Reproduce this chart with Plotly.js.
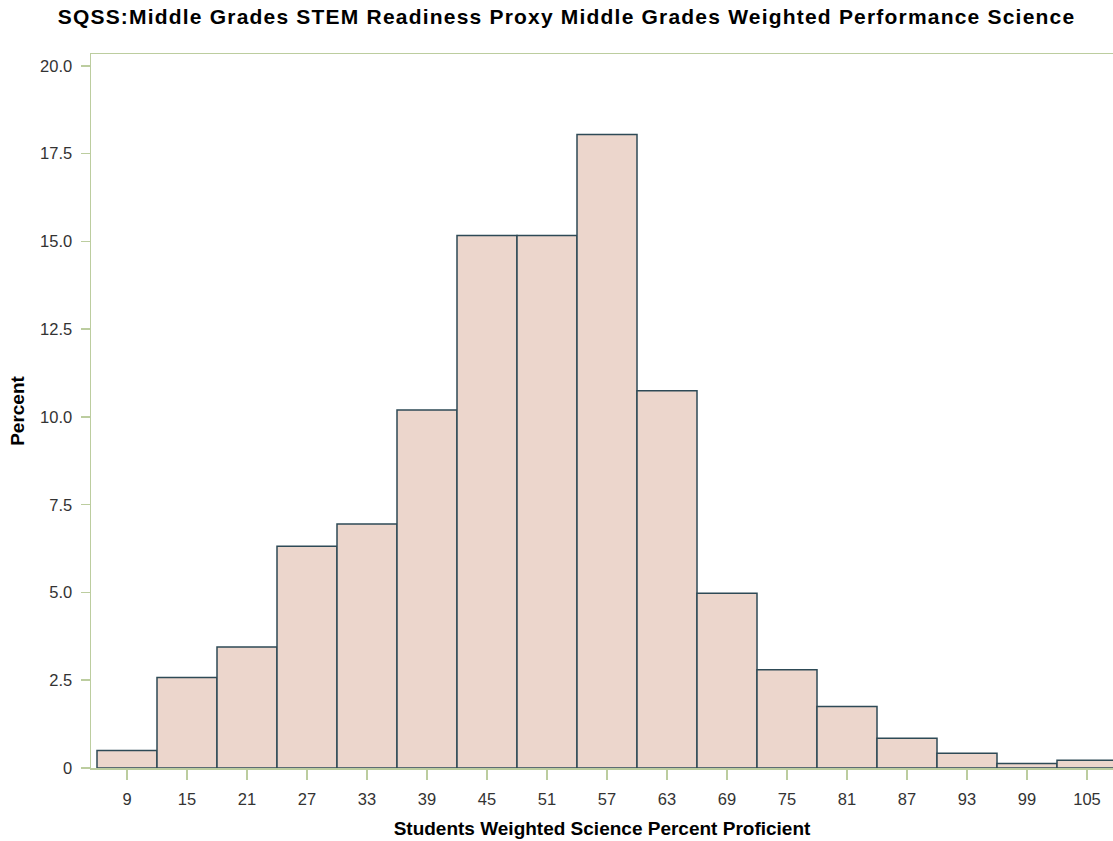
<!DOCTYPE html>
<html>
<head>
<meta charset="utf-8">
<script src="https://cdn.plot.ly/plotly-3.0.1.min.js"></script>
<style>html,body{margin:0;padding:0;background:#fff;}#chart{width:1113px;height:841px;}
.gtitle{letter-spacing:1.2px;}</style>
</head>
<body>
<div id="chart"></div>
<script>
const binCenters = [9, 15, 21, 27, 33, 39, 45, 51, 57, 63, 69, 75, 81, 87, 93, 99, 105];
const percentValues = [0.5, 2.58, 3.45, 6.32, 6.95, 10.2, 15.17, 15.17, 18.05, 10.75, 4.98, 2.8, 1.75, 0.85, 0.42, 0.13, 0.22];
const xTickLabels = ["9","15","21","27","33","39","45","51","57","63","69","75","81","87","93","99","105"];
const yTickVals = [0, 2.5, 5, 7.5, 10, 12.5, 15, 17.5, 20];
const yTickLabels = ["0","2.5","5.0","7.5","10.0","12.5","15.0","17.5","20.0"];
const binWidth = 6;

const axisColor = '#bccd9f';
const fontFam = 'Liberation Sans, Arial, sans-serif';

Plotly.newPlot('chart', [{
  type: 'bar',
  x: binCenters,
  y: percentValues,
  width: binCenters.map(() => binWidth),
  marker: {color: '#ecd6cc', line: {color: '#2e4a56', width: 1.5}},
  hoverinfo: 'x+y'
}], {
  width: 1113, height: 841,
  margin: {l: 91, r: 0, t: 54, b: 73},
  paper_bgcolor: '#fff', plot_bgcolor: '#fff',
  showlegend: false,
  bargap: 0,
  title: {text: 'SQSS:Middle Grades STEM Readiness Proxy Middle Grades Weighted Performance Science',
          font: {family: fontFam, size: 21, color: '#000', weight: 'bold'}, x: 0.509, xanchor: 'center', xref: 'container', y: 0.98, yanchor: 'middle', yref: 'container'},
  xaxis: {
    range: [5.4, 107.6], tickvals: binCenters, ticktext: xTickLabels,
    showgrid: false, zeroline: false, showline: true, linecolor: axisColor, linewidth: 1.5,
    mirror: true, ticks: 'outside', ticklen: 10, tickcolor: axisColor, tickwidth: 1.5,
    ticklabelstandoff: 6,
    tickfont: {family: fontFam, size: 16.5, color: '#333'},
    title: {text: 'Students Weighted Science Percent Proficient', font: {family: fontFam, size: 19, color: '#000', weight: 'bold'}, standoff: 14}
  },
  yaxis: {
    range: [0, 20.34], tickvals: yTickVals, ticktext: yTickLabels,
    showgrid: false, zeroline: false, showline: true, linecolor: axisColor, linewidth: 1.5,
    ticks: 'outside', ticklen: 9, tickcolor: axisColor, tickwidth: 1.5,
    ticklabelstandoff: 5,
    tickfont: {family: fontFam, size: 16.5, color: '#333'},
    title: {text: 'Percent', font: {family: fontFam, size: 19, color: '#000', weight: 'bold'}, standoff: 10}
  }
}, {displayModeBar: false, staticPlot: true});
</script>
</body>
</html>
